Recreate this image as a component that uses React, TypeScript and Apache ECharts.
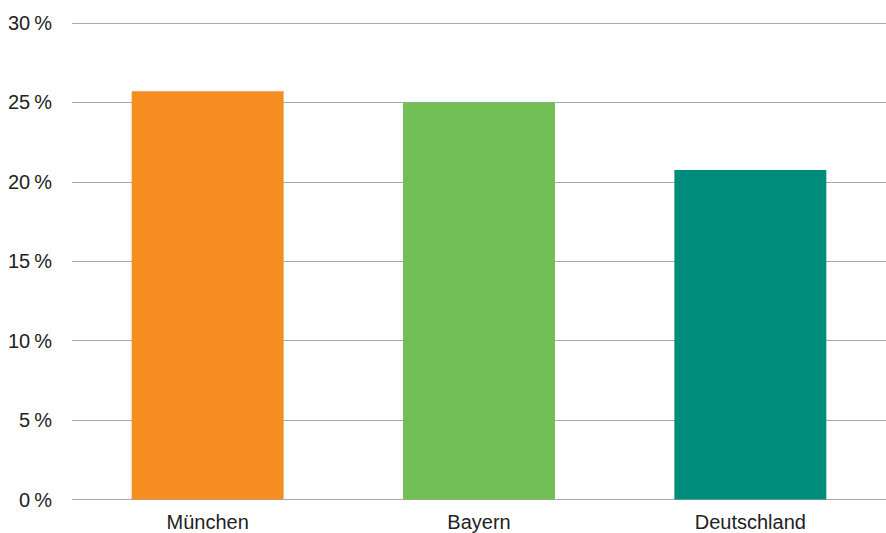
import React, { useEffect, useRef } from "react";
import * as echarts from "echarts";

const categories = ["München", "Bayern", "Deutschland"];
const values = [25.7, 25.0, 20.75];
const barColors = ["#F58D21", "#72BF56", "#008C7A"];
const yTicks = [0, 5, 10, 15, 20, 25, 30];

export default function App() {
  const ref = useRef<HTMLDivElement>(null);
  useEffect(() => {
    if (!ref.current) return;
    const chart = echarts.init(ref.current, null, { renderer: "svg" });
    chart.setOption({
      animation: false,
      grid: { left: 72, right: 0, top: 23, bottom: 33.5, containLabel: false },
      xAxis: {
        type: "category",
        data: categories,
        axisLine: { show: false },
        axisTick: { show: false },
        axisLabel: {
          color: "#222",
          fontSize: 20,
          fontFamily: "Liberation Sans, Arial, sans-serif",
          margin: 12,
        },
      },
      yAxis: {
        type: "value",
        min: yTicks[0],
        max: yTicks[yTicks.length - 1],
        interval: 5,
        axisLine: { show: false },
        axisTick: { show: false },
        splitLine: { lineStyle: { color: "#a8a8a8", width: 1.2 } },
        axisLabel: {
          color: "#222",
          fontSize: 20,
          fontFamily: "Liberation Sans, Arial, sans-serif",
          margin: 20,
          formatter: (v: number) => `${v}\u2009%`,
        },
      },
      series: [
        {
          type: "bar",
          barWidth: "56%",
          data: values.map((v, i) => ({ value: v, itemStyle: { color: barColors[i] } })),
        },
      ],
    });
    return () => chart.dispose();
  }, []);
  return <div ref={ref} style={{ width: 886, height: 533, position: "absolute", left: 0, top: 0 }} />;
}
